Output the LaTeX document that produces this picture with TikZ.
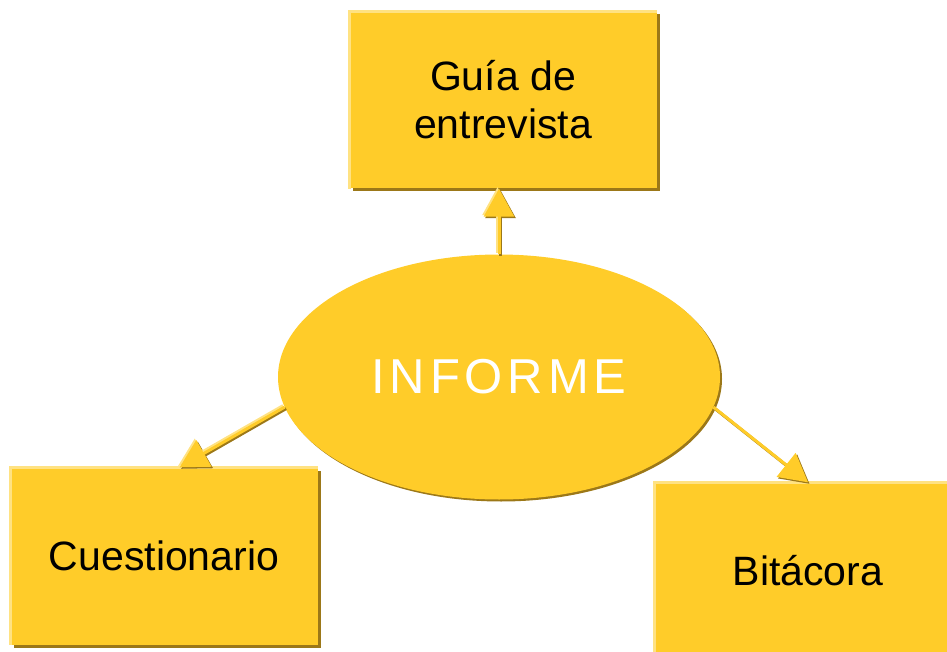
\documentclass[tikz,border=0pt]{standalone}
\usepackage{fontspec}
\setmainfont{Liberation Sans}
\newfontfamily\spacedfont[LetterSpace=10]{Liberation Sans}
\usetikzlibrary{arrows.meta, shapes.geometric, shadows}
\definecolor{gold}{RGB}{255,204,41}
\definecolor{golddark}{RGB}{156,120,24}
\definecolor{goldlight}{RGB}{255,226,130}

\begin{document}
\begin{tikzpicture}[
    x = 1pt, y = -1pt,
    box/.style = {rectangle, fill = gold,
      minimum width = {307pt}, minimum height = {177pt},
      align = center, inner sep = 0pt,
      font = \fontsize{41}{48}\selectfont,
      drop shadow = {shadow xshift = 3pt, shadow yshift = -3pt,
        fill = golddark, opacity = 1}},
    bubble/.style = {ellipse, fill = gold, text = white,
      minimum width = {442pt}, minimum height = {245pt},
      inner sep = 0pt,
      font = \spacedfont\fontsize{49}{56}\selectfont,
      drop shadow = {shadow xshift = 2pt, shadow yshift = -2pt,
        fill = golddark, opacity = 1}},
    rim/.style = {goldlight, line width = 3pt},
    link/.style = {gold, line width = 3pt,
      -{Triangle[length = 28pt, width = 30pt]}},
    linkdark/.style = {link, golddark,
      transform canvas = {shift = {(1.5pt, -1.5pt)}}},
    linklight/.style = {link, goldlight,
      transform canvas = {shift = {(-1.5pt, 1.5pt)}}},
    ]

    \useasboundingbox (0, 0) rectangle (947, 652);

    \node at (503, 100)
    [box, name = guia] {Guía de\\entrevista};
    \node at (164, 556)
    [box, name = quest] {Cuestionario};
    \node at (808, 571)
    [box, name = bit] {Bitácora};

    \draw [rim] (guia.south west) |- (guia.north east);
    \draw [rim] (quest.south west) |- (quest.north east);
    \draw [rim] (bit.south west) |- (bit.north east);

    \node at (499, 377)
    [bubble, name = inf] {INFORME};

    \draw [linkdark] (inf.north) to (inf.north |- guia.south);
    \draw [linklight] (inf.north) to (inf.north |- guia.south);
    \draw [link] (inf.north) to (inf.north |- guia.south);

    \draw [linkdark] (inf.188) to (quest.80);
    \draw [linklight] (inf.188) to (quest.80);
    \draw [link] (inf.188) to (quest.80);

    \draw [linkdark] (inf.352) to (bit.north);
    \draw [link] (inf.352) to (bit.north);

\end{tikzpicture}
\end{document}
